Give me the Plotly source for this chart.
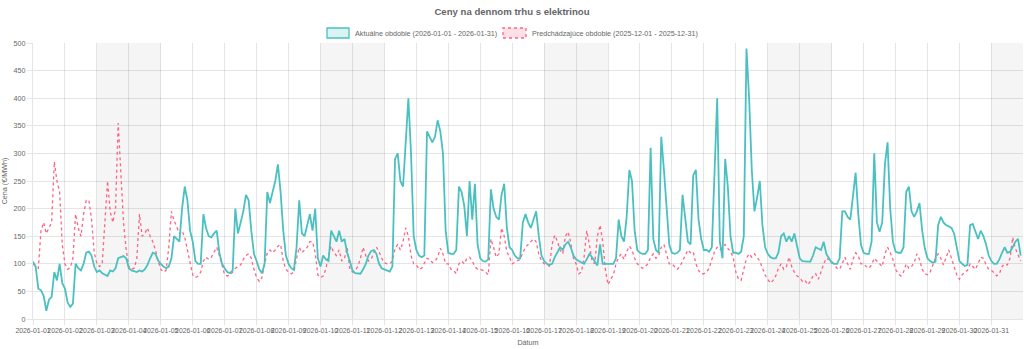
import pandas as pd
import plotly.graph_objects as go

# ---------------- data ----------------
start_date = "2026-01-01"
step = "2h"          # one value every 2 hours, 12 per day

# current period (2026-01-01 .. 2026-01-31), EUR/MWh
current_prices = [
    104, 95, 55, 52, 42, 15, 35, 40, 85, 70, 100, 65,        # 01
    55, 30, 22, 28, 100, 92, 88, 100, 120, 122, 115, 95,     # 02
    85, 88, 83, 80, 78, 88, 86, 92, 110, 112, 114, 110,      # 03
    92, 88, 86, 85, 88, 86, 90, 98, 110, 120, 118, 106,      # 04
    100, 95, 92, 95, 110, 150, 145, 140, 200, 240, 215, 160, # 05
    140, 105, 100, 100, 190, 165, 150, 148, 155, 160, 120, 100,  # 06
    92, 85, 83, 88, 200, 155, 175, 195, 225, 215, 160, 118,  # 07
    105, 90, 83, 100, 230, 210, 230, 250, 280, 230, 160, 115,  # 08
    100, 92, 89, 130, 215, 155, 150, 170, 190, 160, 200, 110,  # 09
    95, 115, 108, 105, 160, 150, 140, 160, 140, 145, 120, 105,  # 10
    88, 83, 82, 82, 90, 100, 115, 123, 125, 118, 100, 92,    # 11
    90, 88, 86, 95, 290, 300, 250, 240, 320, 400, 300, 150,  # 12
    125, 115, 112, 115, 340, 330, 320, 330, 360, 340, 300, 160,  # 13
    120, 118, 118, 125, 240, 230, 205, 150, 250, 180, 245, 135,  # 14
    110, 105, 104, 108, 235, 200, 185, 180, 225, 245, 165, 130,  # 15
    125, 115, 110, 110, 175, 190, 175, 165, 180, 195, 150, 115,  # 16
    105, 100, 98, 100, 112, 120, 130, 125, 135, 140, 130, 115,  # 17
    108, 105, 102, 100, 108, 118, 112, 105, 97, 135, 100, 100,  # 18
    100, 100, 100, 110, 180, 150, 140, 185, 270, 250, 160, 125,  # 19
    120, 118, 118, 125, 310, 145, 125, 120, 330, 270, 200, 135,  # 20
    120, 118, 120, 125, 225, 180, 140, 135, 260, 270, 180, 145,  # 21
    125, 125, 122, 130, 280, 400, 140, 110, 290, 240, 150, 120,  # 22
    120, 118, 122, 150, 490, 400, 270, 195, 220, 250, 170, 130,  # 23
    118, 112, 110, 110, 120, 150, 155, 140, 150, 140, 155, 130,  # 24
    110, 105, 104, 104, 104, 115, 130, 128, 125, 140, 118, 110,  # 25
    102, 100, 100, 110, 195, 195, 185, 180, 225, 265, 190, 135,  # 26
    120, 118, 118, 140, 300, 175, 158, 175, 280, 320, 200, 140,  # 27
    122, 120, 120, 130, 230, 240, 195, 185, 195, 210, 160, 128,  # 28
    110, 105, 102, 104, 170, 185, 175, 170, 168, 165, 155, 130,  # 29
    105, 100, 96, 98, 170, 172, 160, 145, 160, 150, 135, 115,  # 30
    105, 100, 100, 108, 120, 130, 120, 122, 130, 140, 145, 115,  # 31
]

# previous period (2025-12-01 .. 2025-12-31), drawn on the same day index
previous_prices = [
    100, 95, 92, 160, 175, 155, 165, 175, 285, 250, 230, 135,  # 01
    100, 90, 93, 110, 190, 165, 150, 190, 215, 215, 180, 120,  # 02
    100, 95, 100, 170, 250, 195, 175, 200, 355, 265, 175, 125,  # 03
    95, 90, 92, 110, 190, 150, 155, 165, 150, 140, 125, 105,   # 04
    90, 85, 88, 130, 195, 178, 165, 155, 160, 148, 125, 100,   # 05
    80, 75, 78, 85, 105, 112, 108, 112, 120, 130, 115, 95,     # 06
    80, 78, 80, 85, 92, 95, 98, 108, 115, 118, 110, 90,        # 07
    75, 68, 75, 100, 120, 125, 120, 125, 132, 135, 105, 90,    # 08
    85, 82, 85, 110, 130, 120, 125, 130, 140, 140, 120, 80,    # 09
    75, 78, 90, 115, 132, 120, 115, 125, 105, 110, 130, 90,    # 10
    85, 88, 95, 110, 130, 115, 105, 108, 120, 130, 122, 110,   # 11
    102, 100, 100, 105, 128, 135, 125, 140, 165, 150, 115, 100,  # 12
    98, 90, 92, 100, 110, 108, 102, 105, 112, 128, 118, 100,   # 13
    100, 90, 88, 82, 100, 105, 100, 110, 112, 105, 95, 90,     # 14
    90, 88, 85, 80, 145, 130, 112, 118, 165, 150, 122, 112,    # 15
    100, 103, 105, 108, 120, 130, 135, 140, 145, 140, 118, 105,  # 16
    100, 98, 96, 135, 152, 140, 125, 118, 150, 158, 138, 110,  # 17
    100, 82, 85, 112, 160, 135, 105, 100, 150, 170, 140, 90,   # 18
    62, 72, 80, 100, 112, 118, 108, 122, 132, 125, 110, 100,   # 19
    95, 92, 95, 100, 112, 118, 110, 115, 130, 135, 115, 100,   # 20
    100, 95, 90, 95, 105, 118, 125, 120, 122, 100, 88, 82,     # 21
    82, 85, 92, 108, 122, 130, 125, 130, 135, 128, 122, 112,   # 22
    85, 72, 70, 90, 110, 118, 112, 118, 112, 105, 92, 80,      # 23
    72, 65, 70, 78, 92, 100, 90, 95, 112, 95, 85, 78,          # 24
    75, 68, 70, 62, 68, 78, 82, 72, 85, 100, 110, 108,         # 25
    105, 98, 92, 90, 102, 112, 100, 90, 108, 120, 115, 100,    # 26
    100, 95, 92, 98, 110, 105, 100, 95, 118, 130, 120, 108,    # 27
    90, 82, 78, 85, 100, 92, 95, 102, 118, 108, 90, 82,        # 28
    80, 85, 98, 110, 118, 110, 98, 110, 125, 110, 95, 80,      # 29
    72, 80, 85, 88, 100, 95, 90, 100, 112, 110, 98, 90,        # 30
    88, 84, 78, 82, 95, 100, 98, 110, 148, 128, 118, 105,      # 31
]

day_ticks = [f"2026-01-{d:02d}" for d in range(1, 32)]
weekend_starts = ["2026-01-03", "2026-01-10", "2026-01-17", "2026-01-24", "2026-01-31"]
y_ticks = list(range(0, 501, 50))

title_text = "Ceny na dennom trhu s elektrinou"
current_label = "Aktuálne obdobie (2026-01-01 - 2026-01-31)"
previous_label = "Predchádzajúce obdobie (2025-12-01 - 2025-12-31)"
y_title = "Cena (€/MWh)"
x_title = "Dátum"

# ---------------- styling ----------------
TEAL = "rgb(75,192,192)"
PINK = "rgb(255,99,132)"
TEXT = "#666666"
GRID = "rgba(0,0,0,0.1)"
FONT = "Arial, Liberation Sans, sans-serif"

W, H = 1024, 349
L, R, T, B = 33, 1, 43, 30
PW, PH = W - L - R, H - T - B


def px_x(px):
    return (px - L) / PW


def px_y(py):
    return (H - B - py) / PH


times = pd.date_range(start_date, periods=len(current_prices), freq=step)
x_end = pd.Timestamp(day_ticks[-1]) + pd.Timedelta(hours=23, minutes=45)

fig = go.Figure()
fig.add_trace(go.Scatter(
    x=times, y=previous_prices, mode="lines", name=previous_label,
    line=dict(color=PINK, width=1.3, dash="3px,3px"), showlegend=False,
))
fig.add_trace(go.Scatter(
    x=times, y=current_prices, mode="lines", name=current_label,
    line=dict(color=TEAL, width=1.8), showlegend=False,
))

shapes = []
for ws in weekend_starts:
    s = pd.Timestamp(ws)
    e = min(s + pd.Timedelta(days=2), x_end)
    shapes.append(dict(type="rect", xref="x", yref="paper", x0=s, x1=e, y0=0, y1=1,
                       fillcolor="rgba(0,0,0,0.04)", line=dict(width=0), layer="below"))

# legend (Chart.js-like boxes)
leg_y0, leg_y1 = px_y(38), px_y(28)
shapes.append(dict(type="rect", xref="paper", yref="paper", x0=px_x(327), x1=px_x(349),
                   y0=leg_y0, y1=leg_y1, fillcolor="rgba(75,192,192,0.2)",
                   line=dict(color=TEAL, width=1.3)))
shapes.append(dict(type="rect", xref="paper", yref="paper", x0=px_x(503), x1=px_x(526),
                   y0=leg_y0, y1=leg_y1, fillcolor="rgba(255,99,132,0.2)",
                   line=dict(color=PINK, width=1.3, dash="3px,3px")))
annotations = [
    dict(text=current_label, xref="paper", yref="paper", x=px_x(353), y=px_y(33),
         xanchor="left", yanchor="middle", showarrow=False,
         font=dict(size=7.2, color=TEXT, family=FONT)),
    dict(text=previous_label, xref="paper", yref="paper", x=px_x(530), y=px_y(33),
         xanchor="left", yanchor="middle", showarrow=False,
         font=dict(size=7.2, color=TEXT, family=FONT)),
]

fig.update_layout(
    width=W, height=H, autosize=False,
    margin=dict(l=L, r=R, t=T, b=B),
    paper_bgcolor="white", plot_bgcolor="white",
    font=dict(family=FONT, size=7.2, color=TEXT),
    title=dict(text=f"<b>{title_text}</b>", x=0.5, xref="container", xanchor="center",
               y=1 - 12 / H, yref="container", yanchor="middle",
               font=dict(size=9.6, color=TEXT, family=FONT)),
    shapes=shapes, annotations=annotations,
    showlegend=False,
    hovermode=False,
)
fig.update_xaxes(
    type="date", range=[pd.Timestamp(day_ticks[0]), x_end],
    tickvals=[pd.Timestamp(d) for d in day_ticks], ticktext=day_ticks,
    showgrid=True, gridcolor=GRID, gridwidth=1,
    ticks="outside", ticklen=5, tickcolor=GRID,
    showline=True, linecolor=GRID, zeroline=False,
    tickfont=dict(size=6.9, color=TEXT), tickangle=0,
    title=dict(text=x_title, font=dict(size=7.2, color=TEXT), standoff=6),
)
fig.update_yaxes(
    range=[0, 500], tickvals=y_ticks,
    showgrid=True, gridcolor=GRID, gridwidth=1,
    ticks="outside", ticklen=5, tickcolor=GRID,
    showline=True, linecolor=GRID, zeroline=False,
    tickfont=dict(size=7.2, color=TEXT),
    title=dict(text=y_title, font=dict(size=7.2, color=TEXT), standoff=6),
)

fig.write_html("out.html")
